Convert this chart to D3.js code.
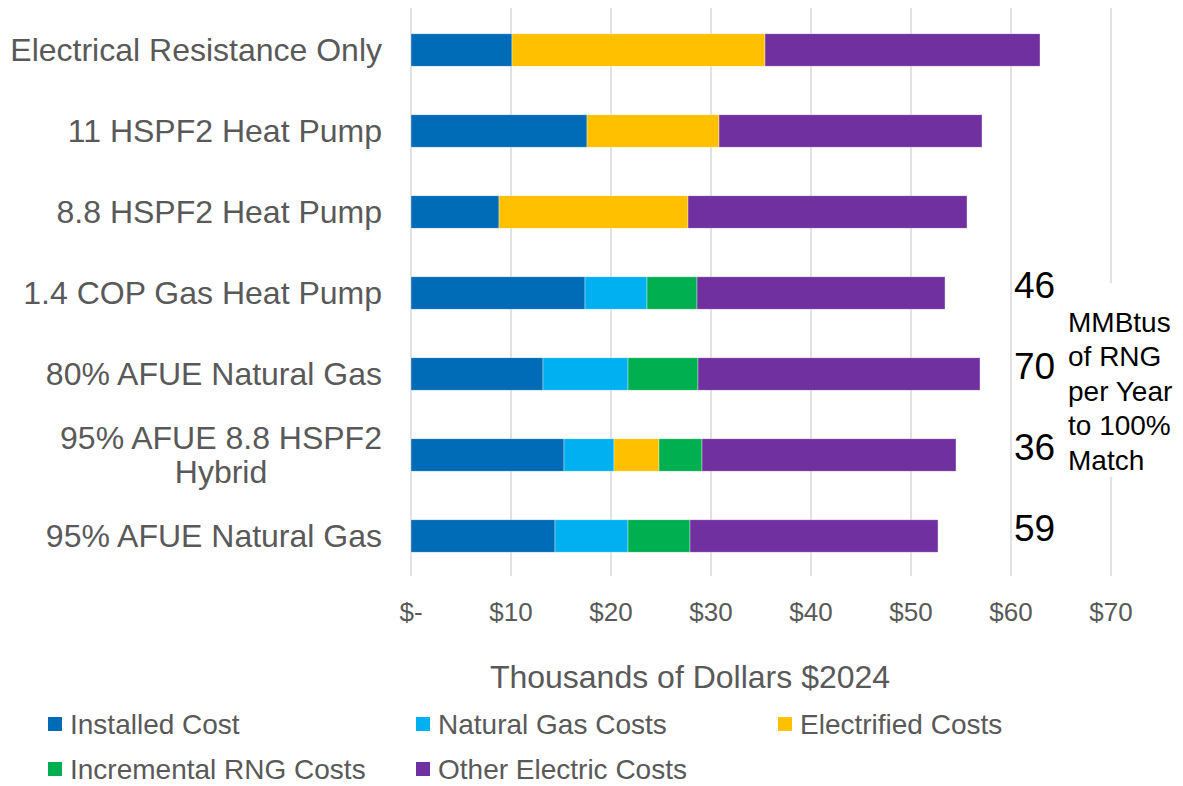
<!DOCTYPE html>
<html>
<head>
<meta charset="utf-8">
<script src="https://cdn.jsdelivr.net/npm/d3@7"></script>
<style>
  body { margin: 0; background: #fff; }
  text { font-family: "Liberation Sans", Arial, sans-serif; }
</style>
</head>
<body>
<div id="chart"></div>
<script>
// options, top to bottom
var categories = [
  "Electrical Resistance Only",
  "11 HSPF2 Heat Pump",
  "8.8 HSPF2 Heat Pump",
  "1.4 COP Gas Heat Pump",
  "80% AFUE Natural Gas",
  "95% AFUE 8.8 HSPF2 Hybrid",
  "95% AFUE Natural Gas"
];
var seriesNames = ["Installed Cost", "Natural Gas Costs", "Electrified Costs", "Incremental RNG Costs", "Other Electric Costs"];
// thousands of $2024
var installed   = [10.1, 17.6, 8.8, 17.4, 13.2, 15.3, 14.4];
var naturalGas  = [0, 0, 0, 6.2, 8.5, 5.0, 7.3];
var electrified = [25.3, 13.2, 18.9, 0, 0, 4.5, 0];
var rngCosts    = [0, 0, 0, 5.0, 7.0, 4.3, 6.2];
var otherElec   = [27.5, 26.3, 27.9, 24.8, 28.2, 25.4, 24.8];
var rngMmbtu    = [null, null, null, 46, 70, 36, 59];
var xTicks = [0, 10, 20, 30, 40, 50, 60, 70];
var noteLines = ["MMBtus", "of RNG", "per Year", "to 100%", "Match"];

var colors = ["#006bb6", "#00b0f0", "#ffc000", "#00b050", "#7030a0"];

var width = 1183, height = 786;
var svg = d3.select('#chart').append('svg')
  .attr('width', width).attr('height', height);

var x = d3.scaleLinear().domain([0, 70]).range([411, 1111]);
var y = d3.scaleBand().domain(categories).range([9.5, 576.5]).paddingInner(0.6).paddingOuter(0.3);

var table = categories.map(function (c, i) {
  return { cat: c, s0: installed[i], s1: naturalGas[i], s2: electrified[i], s3: rngCosts[i], s4: otherElec[i] };
});
var stack = d3.stack().keys(["s0", "s1", "s2", "s3", "s4"])(table);

// gridlines
svg.append('g').selectAll('line').data(xTicks).enter().append('line')
  .attr('x1', function (d) { return x(d); })
  .attr('x2', function (d) { return x(d); })
  .attr('y1', 8).attr('y2', 576)
  .attr('stroke', '#d9d9d9').attr('stroke-width', 1.5);

// bars
svg.append('g').selectAll('g').data(stack).enter().append('g')
  .attr('fill', function (d, i) { return colors[i]; })
  .selectAll('rect').data(function (d) { return d; }).enter().append('rect')
    .filter(function (d) { return d[1] - d[0] > 0; })
    .attr('x', function (d) { return x(d[0]); })
    .attr('width', function (d) { return x(d[1]) - x(d[0]); })
    .attr('y', function (d) { return y(d.data.cat); })
    .attr('height', y.bandwidth())
    .attr('stroke', '#fff').attr('stroke-width', 0.6).attr('stroke-opacity', 0.6);

// category labels
svg.append('g').selectAll('text').data(categories).enter().append('text')
  .attr('fill', '#595959').attr('font-size', 32)
  .each(function (d) {
    var t = d3.select(this);
    var cy = y(d) + y.bandwidth() / 2;
    if (d === "95% AFUE 8.8 HSPF2 Hybrid") {
      t.attr('text-anchor', 'middle');
      t.append('tspan').attr('x', 221).attr('y', cy - 17).attr('dy', '0.35em').text("95% AFUE 8.8 HSPF2");
      t.append('tspan').attr('x', 221).attr('y', cy + 17).attr('dy', '0.35em').text("Hybrid");
    } else {
      t.attr('text-anchor', 'end').attr('x', 382).attr('y', cy).attr('dy', '0.35em').text(d);
    }
  });

// x tick labels
svg.append('g').selectAll('text').data(xTicks).enter().append('text')
  .attr('x', function (d) { return x(d); })
  .attr('y', 612).attr('dy', '0.35em')
  .attr('text-anchor', 'middle')
  .attr('fill', '#595959').attr('font-size', 26)
  .text(function (d) { return d === 0 ? "$-" : "$" + d; });

svg.append('text')
  .attr('x', 690).attr('y', 677).attr('dy', '0.35em')
  .attr('text-anchor', 'middle')
  .attr('fill', '#595959').attr('font-size', 32)
  .text("Thousands of Dollars $2024");

// RNG annotation
var note = svg.append('g');
note.append('rect').attr('x', 1062).attr('y', 283).attr('width', 121).attr('height', 194).attr('fill', '#fff');
note.append('text').attr('font-size', 28).attr('fill', '#000')
  .selectAll('tspan').data(noteLines).enter().append('tspan')
  .attr('x', 1068)
  .attr('y', function (d, i) { return 322 + i * 34.5; })
  .attr('dy', '0.35em')
  .text(function (d) { return d; });

svg.append('g').selectAll('text').data(categories).enter().append('text')
  .filter(function (d, i) { return rngMmbtu[i] != null; })
  .attr('x', 1014)
  .attr('y', function (d) { return y(d) + y.bandwidth() / 2 - 8; })
  .attr('dy', '0.35em')
  .attr('font-size', 37).attr('fill', '#000')
  .text(function (d) { return rngMmbtu[categories.indexOf(d)]; });

// legend
var legendPos = [[48, 724], [416, 724], [778, 724], [48, 769], [416, 769]];
var legend = svg.append('g').selectAll('g').data(seriesNames).enter().append('g')
  .attr('transform', function (d, i) { return 'translate(' + legendPos[i][0] + ',' + legendPos[i][1] + ')'; });
legend.append('rect').attr('x', 0).attr('y', -7).attr('width', 14).attr('height', 14)
  .attr('fill', function (d, i) { return colors[i]; });
legend.append('text').attr('x', 22).attr('dy', '0.35em')
  .attr('fill', '#595959').attr('font-size', 28)
  .text(function (d) { return d; });
</script>
</body>
</html>
